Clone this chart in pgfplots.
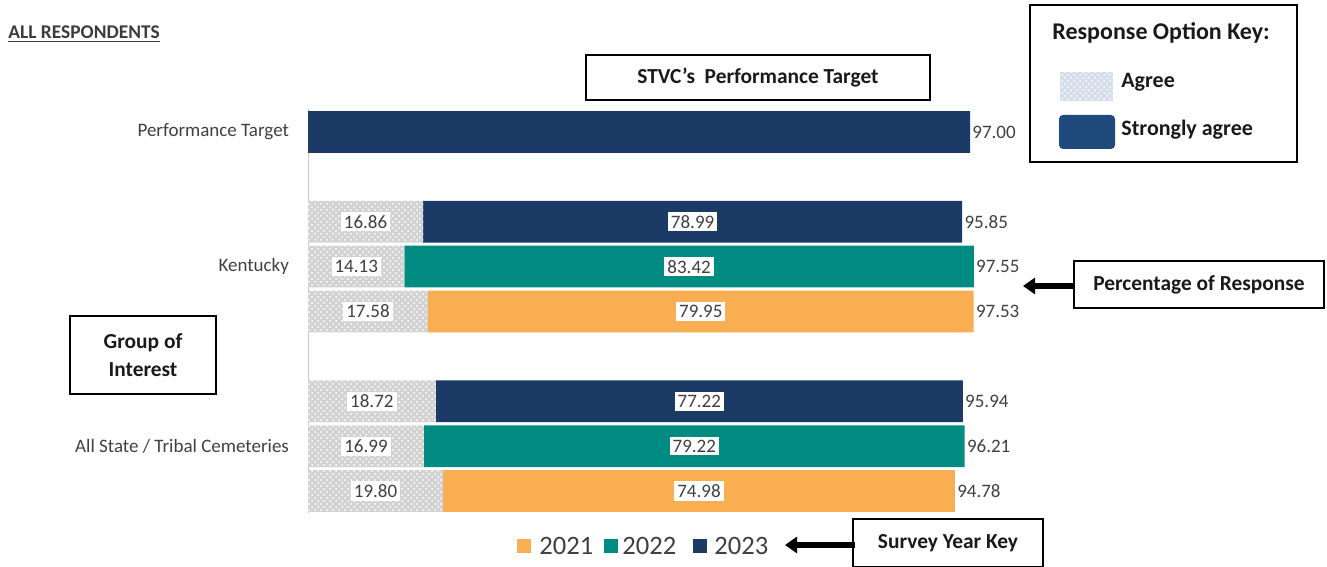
\documentclass[border=0pt]{standalone}
\usepackage{fontspec}
\setmainfont{Carlito}
\usepackage{pgfplots}
\pgfplotsset{compat=1.18}
\usepackage{pgfplotstable}
\usetikzlibrary{patterns,arrows.meta}
\definecolor{navy}{HTML}{1B3A66}
\definecolor{teal2}{HTML}{008C82}
\definecolor{orng}{HTML}{F9AE52}
\definecolor{agreeg}{HTML}{D2D2D2}
\definecolor{keyblue}{HTML}{1F4A7C}
\definecolor{keyag}{HTML}{D5DEEA}
\definecolor{txt}{HTML}{404040}
\definecolor{ann}{HTML}{1A1A1A}

\pgfplotstableread{
y agree s21 s22 s23 total
8 0 0 0 97.00 97.00
6 16.86 0 0 78.99 95.85
5 14.13 0 83.42 0 97.55
4 17.58 79.95 0 0 97.53
2 18.72 0 0 77.22 95.94
1 16.99 0 79.22 0 96.21
0 19.80 74.98 0 0 94.78
}\data

\newcommand{\valfont}{\fontsize{9.5}{11}\selectfont}
\newcommand{\annfont}{\fontsize{10.7}{13}\selectfont\bfseries}
\newcommand{\fmt}{\pgfmathprintnumber[fixed,fixed zerofill,precision=2,assume math mode=true]{\pgfplotspointmeta}}

\begin{document}
\begin{tikzpicture}[x=0.5pt,y=0.5pt]
\useasboundingbox (0,0) rectangle (1327,567);

\pgfplotsset{myaxis/.style={
  at={(154pt,26.75pt)}, anchor=south west, scale only axis,
  width=341.25pt, height=202pt,
  xmin=0, xmax=100, ymin=-0.5, ymax=8.5,
}}

\begin{axis}[myaxis,
  xbar stacked, bar width=0.93,
  axis x line=none, axis y line*=left,
  y axis line style={draw=black!22,-},
  ytick={1,5,8},
  yticklabels={All State / Tribal Cemeteries, Kentucky, Performance Target},
  major tick length=0pt,
  yticklabel style={font=\fontsize{9.5}{11}\selectfont, text=txt, xshift=-6pt},
]
\addplot[fill=agreeg, draw=none, postaction={pattern=crosshatch dots, pattern color=white}] table[x=agree,y=y]{\data};
\addplot[fill=orng, draw=none] table[x=s21,y=y]{\data};
\addplot[fill=teal2, draw=none] table[x=s22,y=y]{\data};
\addplot[fill=navy, draw=none] table[x=s23,y=y]{\data};
\end{axis}

\begin{axis}[myaxis, hide axis]
\addplot[only marks, mark=none,
  nodes near coords={\fmt},
  point meta=\thisrow{agree},
  every node near coord/.style={anchor=center, fill=white, inner sep=1.5pt, text=txt, font=\valfont},
  restrict x to domain=0.1:100]
  table[x expr=\thisrow{agree}/2, y=y]{\data};
\addplot[only marks, mark=none,
  nodes near coords={\fmt},
  point meta=\thisrow{s21}+\thisrow{s22}+\thisrow{s23},
  every node near coord/.style={anchor=center, fill=white, inner sep=1.5pt, text=txt, font=\valfont},
  restrict y to domain=-1:7]
  table[x expr=\thisrow{agree}+(\thisrow{s21}+\thisrow{s22}+\thisrow{s23})/2, y=y]{\data};
\addplot[only marks, mark=none,
  nodes near coords={\fmt},
  point meta=\thisrow{total},
  every node near coord/.style={anchor=west, inner sep=1pt, text=txt, font=\valfont}]
  table[x=total, y=y]{\data};
\end{axis}

% title
\node[anchor=west, inner sep=0, text=ann!85, font=\fontsize{9.7}{11}\selectfont\bfseries] at (8,533) {\underline{ALL RESPONDENTS}};

% STVC box
\node[draw=black, line width=0.6pt, minimum width=172pt, minimum height=22.5pt, inner sep=0, text=ann, font=\annfont] at (758,489.5) {STVC’s\ \ Performance Target};

% Response option key
\draw[line width=0.75pt] (1030,562) rectangle (1297,405);
\node[anchor=west, inner sep=0, font=\fontsize{12}{14}\selectfont\bfseries, text=ann] at (1052,534) {Response Option Key:};
\fill[keyag] (1060,495) rectangle (1113,466);
\fill[pattern=crosshatch dots, pattern color=white] (1060,495) rectangle (1113,466);
\node[anchor=west, inner sep=0, font=\fontsize{11}{13}\selectfont\bfseries, text=ann] at (1121,485) {Agree};
\fill[keyblue, rounded corners=2pt] (1059,452) rectangle (1115,418);
\node[anchor=west, inner sep=0, font=\fontsize{11}{13}\selectfont\bfseries, text=ann] at (1121,437) {Strongly agree};

% Percentage of response
\node[draw=black, line width=0.6pt, minimum width=125pt, minimum height=23.5pt, inner sep=0, text=ann, font=\annfont] at (1199,282.5) {Percentage of Response};
\draw[line width=3pt, -{Triangle[length=6pt,width=8pt]}] (1074,281) -- (1023,281);

% Group of interest
\node[draw=black, line width=0.6pt, minimum width=73pt, minimum height=39pt, inner sep=0, align=center, text=ann, font=\annfont] at (143,212) {Group of\\[1pt]Interest};

% Survey year key
\node[draw=black, line width=0.6pt, minimum width=95pt, minimum height=24pt, inner sep=0, text=ann, font=\annfont] at (948,24) {Survey Year Key};
\draw[line width=3pt, -{Triangle[length=6pt,width=8pt]}] (855,22) -- (785,22);

% year legend
\fill[orng] (517,14) rectangle (531,28);
\node[anchor=west, inner sep=0, text=txt, font=\fontsize{13.3}{15}\selectfont] at (539,21) {2021};
\fill[teal2] (604,14) rectangle (618,28);
\node[anchor=west, inner sep=0, text=txt, font=\fontsize{13.3}{15}\selectfont] at (622,21) {2022};
\fill[navy] (693,14) rectangle (707,28);
\node[anchor=west, inner sep=0, text=txt, font=\fontsize{13.3}{15}\selectfont] at (714,21) {2023};
\end{tikzpicture}
\end{document}
